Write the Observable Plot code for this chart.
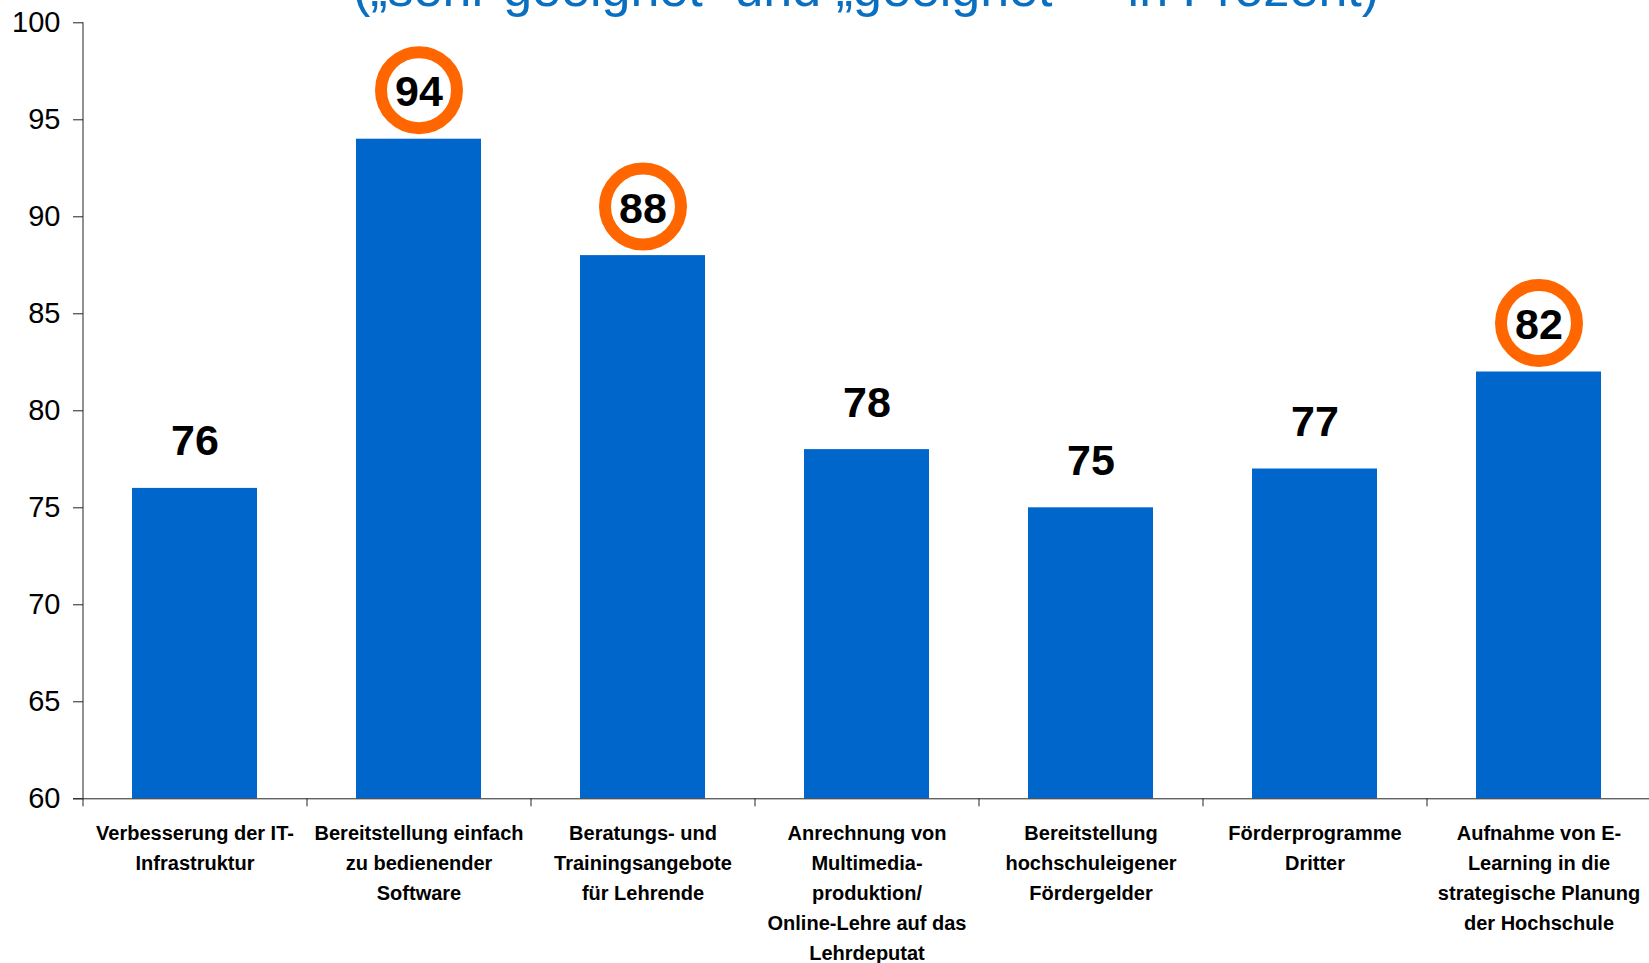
<!DOCTYPE html>
<html><head><meta charset="utf-8">
<script src="https://cdn.jsdelivr.net/npm/d3@7"></script>
<script src="https://cdn.jsdelivr.net/npm/@observablehq/plot@0.6"></script>
<style>
html,body{margin:0;padding:0;background:#fff;overflow:hidden;}
#title{position:absolute;left:0;width:1732px;top:-38px;text-align:center;font:52px/52px "Liberation Sans",Arial,sans-serif;color:#0B6FC0;white-space:nowrap;z-index:2;}
#chart{position:relative;z-index:1;}
</style></head><body>
<div id="title">(„sehr geeignet“ und „geeignet“ – in Prozent)</div>
<div id="chart"></div>
<script>
const categories = [
  "Verbesserung der IT-\nInfrastruktur",
  "Bereitstellung einfach\nzu bedienender\nSoftware",
  "Beratungs- und\nTrainingsangebote\nfür Lehrende",
  "Anrechnung von\nMultimedia-\nproduktion/\nOnline-Lehre auf das\nLehrdeputat",
  "Bereitstellung\nhochschuleigener\nFördergelder",
  "Förderprogramme\nDritter",
  "Aufnahme von E-\nLearning in die\nstrategische Planung\nder Hochschule"
];
const values = [76, 94, 88, 78, 75, 77, 82];
const highlighted = [false, true, true, false, false, false, true];
const yTicks = [60, 65, 70, 75, 80, 85, 90, 95, 100];

const data = categories.map((c, i) => ({cat: c, value: values[i], hi: highlighted[i]}));

const xRange = [83, 1651];
const band = (xRange[1] - xRange[0]) / categories.length;

const chart = Plot.plot({
  width: 1649,
  height: 963,
  marginLeft: 83,
  marginRight: 0,
  marginTop: 22,
  marginBottom: 165,
  style: {fontFamily: "'Liberation Sans', Arial, sans-serif", background: "white", color: "#000"},
  x: {domain: categories, range: xRange, paddingInner: 0.44, paddingOuter: 0.22, axis: null},
  y: {domain: [60, 100], range: [798.3, 22.3]},
  marks: [
    Plot.barY(data, {x: "cat", y1: 60, y2: "value", fill: "#0066CC"}),
    Plot.ruleY([60], {insetLeft: -10, stroke: "#222"}),
    Plot.ruleX(categories, {x: d => d, dx: -band / 2, y1: 60, y2: 60, insetBottom: -8, stroke: "#222"}),
    Plot.ruleX([categories[0]], {x: d => d, dx: -band / 2, y1: 100, y2: 60, stroke: "#222"}),
    Plot.axisY({ticks: yTicks, tickSize: 10, tickPadding: 13, fontSize: 29, stroke: "#222", label: null}),
    Plot.dot(data.filter(d => d.hi), {x: "cat", y: "value", dy: -49, r: 38, stroke: "#FF6600", strokeWidth: 12, fill: "white"}),
    Plot.text(data, {x: "cat", y: "value", text: d => String(d.value), lineAnchor: "bottom", dy: -33, fontSize: 43, fontWeight: "bold", fill: "#000"}),
    Plot.text(data, {x: "cat", y: 60, text: "cat", lineAnchor: "top", dy: 19.5, fontSize: 20, fontWeight: "bold", lineHeight: 1.5, fill: "#000", letterSpacing: "-0.3px"})
  ]
});
document.getElementById("chart").append(chart);
</script>
</body></html>
